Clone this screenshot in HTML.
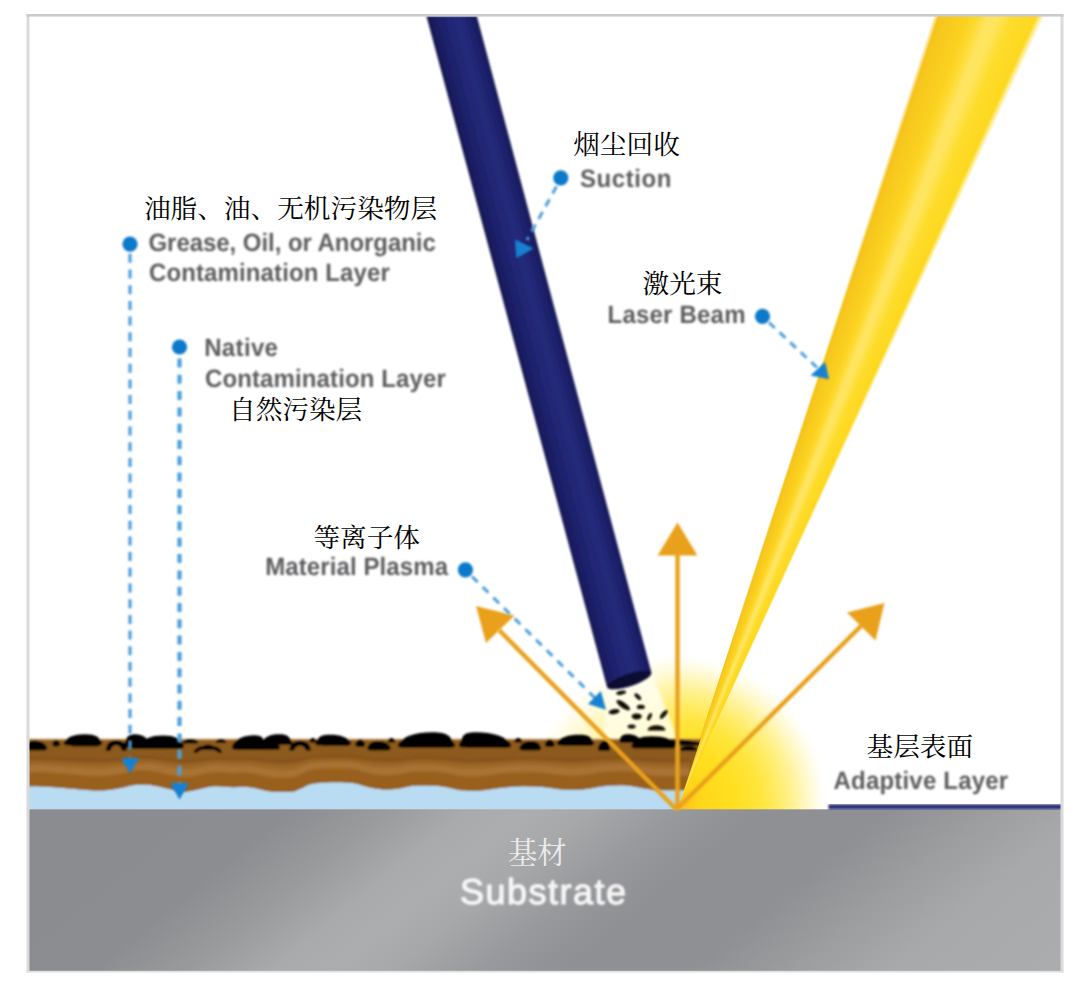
<!DOCTYPE html>
<html lang="zh"><head><meta charset="utf-8"><title>Laser cleaning diagram</title>
<style>
html,body{margin:0;padding:0;background:#fff;}
body{width:1078px;height:1000px;position:relative;overflow:hidden;font-family:"Liberation Sans",sans-serif;}
#stage{position:absolute;left:0;top:0;width:1078px;height:1000px;overflow:hidden;}
#stage svg{position:absolute;left:0;top:0;}
#beam{position:absolute;left:28px;top:16px;width:1033px;height:794px;
 background:conic-gradient(from 0deg at 648.5px 793.5px,
  rgba(247,200,30,0) 17.95deg,#f5c41c 18.3deg,#f8cb1e 19.2deg,#fbd220 20.2deg,#fdda30 20.8deg,#ffe462 21.5deg,#ffe45c 22.1deg,#fedc2c 23.0deg,#fdd81f 24.4deg,rgba(253,216,31,0) 24.9deg);}
.en{position:absolute;white-space:nowrap;text-rendering:geometricPrecision;font-kerning:normal;font-weight:bold;color:#5d5d60;font-size:24px;line-height:30px;filter:blur(1.05px);transform-origin:0 23.3px;transform:scaleY(1.045);}
.zhs{font-family:"Liberation Serif","Noto Serif CJK SC",serif;}
</style></head><body><div id="stage">
<svg width="1078" height="1000" viewBox="0 0 1078 1000">
<defs>
<radialGradient id="glow" gradientUnits="userSpaceOnUse" cx="676.5" cy="805.5" r="150">
<stop offset="0" stop-color="#fcb811"/>
<stop offset="0.05" stop-color="#fec414"/>
<stop offset="0.14" stop-color="#ffd419"/>
<stop offset="0.38" stop-color="#ffdf20"/>
<stop offset="0.56" stop-color="#ffe53c"/>
<stop offset="0.68" stop-color="#ffec68"/>
<stop offset="0.78" stop-color="#fff296"/>
<stop offset="0.87" stop-color="#fff8c8"/>
<stop offset="0.95" stop-color="#fffdee"/>
<stop offset="1" stop-color="#ffffff"/>
</radialGradient>
<linearGradient id="cone" gradientUnits="userSpaceOnUse" x1="630" y1="672" x2="640" y2="742"><stop offset="0" stop-color="#fffef2" stop-opacity="0.9"/><stop offset="1" stop-color="#fffde2" stop-opacity="0.86"/></linearGradient>
<linearGradient id="lfade" gradientUnits="userSpaceOnUse" x1="500" y1="0" x2="700" y2="0"><stop offset="0" stop-color="#fff" stop-opacity="0.5"/><stop offset="0.66" stop-color="#fff" stop-opacity="0.45"/><stop offset="0.93" stop-color="#fff" stop-opacity="0"/></linearGradient>
<clipPath id="box"><rect x="28" y="16" width="1033" height="955"/></clipPath>
<filter id="b1" x="-5%" y="-5%" width="110%" height="110%"><feGaussianBlur stdDeviation="0.7"/></filter>
<filter id="b2" x="-5%" y="-5%" width="110%" height="110%"><feGaussianBlur stdDeviation="1.6"/></filter>
</defs>
<rect width="1078" height="1000" fill="#fff"/>
<g clip-path="url(#box)">
<circle cx="676.5" cy="805.5" r="150" fill="url(#glow)"/>
<rect x="500" y="630" width="200" height="185" fill="url(#lfade)"/>
<path d="M607 686L651.5 672L679 742L603.5 742Z" fill="url(#cone)" filter="url(#b2)"/>
</g></svg>
<div id="beam"></div>
<svg width="1078" height="1000" viewBox="0 0 1078 1000">
<defs>
<linearGradient id="sub" gradientUnits="userSpaceOnUse" x1="28" y1="809" x2="518.3" y2="1412.1">
<stop offset="0.0000" stop-color="#8b8c8f"/>
<stop offset="0.2127" stop-color="#8c8d90"/>
<stop offset="0.2938" stop-color="#9a9b9d"/>
<stop offset="0.3588" stop-color="#a9aaac"/>
<stop offset="0.4075" stop-color="#acadaf"/>
<stop offset="0.4562" stop-color="#a7a8aa"/>
<stop offset="0.5292" stop-color="#98999c"/>
<stop offset="0.5942" stop-color="#8f9093"/>
<stop offset="0.6997" stop-color="#8f9093"/>
<stop offset="0.7808" stop-color="#9c9d9f"/>
<stop offset="0.8620" stop-color="#a8a9ab"/>
<stop offset="1.0000" stop-color="#abacae"/>
</linearGradient>
<linearGradient id="tube" gradientUnits="userSpaceOnUse" x1="426.4" y1="16" x2="475.1" y2="3"><stop offset="0" stop-color="#14164a"/><stop offset="0.12" stop-color="#1a1d63"/><stop offset="0.45" stop-color="#222877"/><stop offset="0.62" stop-color="#242a7a"/><stop offset="0.88" stop-color="#1b1e66"/><stop offset="1" stop-color="#14164c"/></linearGradient>
<clipPath id="box2"><rect x="28" y="16" width="1033" height="955"/></clipPath>
<clipPath id="cut"><path d="M0 700L713.3 700L676.9 812L0 812Z"/></clipPath>
<clipPath id="brownclip"><path d="M28 739.5 L710 739.5 L690 790.2C685 790.2 667.7 790.5 660 790.2C652.3 789.9 650 789.2 644 788.4C638 787.6 630.5 785.6 623.7 785.3C616.9 784.9 610.1 785.6 603.3 786.3C596.5 787 589.7 788.9 582.9 789.4C576.1 789.9 569.2 789.8 562.4 789.4C555.6 789 548.8 787.5 542 787C535.2 786.5 528.4 786.2 521.6 786.3C514.8 786.4 508 787.1 501.2 787.8C494.4 788.5 487.6 790 480.8 790.4C474 790.8 466 790.7 460.4 790.2C454.8 789.7 451.4 788 447 787.3C442.6 786.5 439.6 786 434 785.7C428.4 785.4 419.5 785.2 413.7 785.7C407.9 786.2 404.5 787.8 399.4 788.4C394.3 789 388.1 789.6 383 789.4C377.9 789.2 373.9 788.4 368.8 787.3C363.7 786.2 358.5 783.8 352.4 783C346.3 782.2 338.8 782.1 332 782.3C325.2 782.4 316.8 782.9 311.6 783.9C306.4 784.9 304.4 787.1 301 788.4C297.6 789.7 296 791.3 291 791.8C286 792.3 277.8 792.1 271 791.4C264.2 790.6 256.5 788 250 787.3C243.5 786.6 238 787.4 232 787.2C226 787 220.4 785.8 214 786.3C207.6 786.8 198.6 789.5 193.5 790.4C188.4 791.2 187.7 791.7 183.3 791.4C178.9 791.1 172.4 789.5 167 788.4C161.6 787.3 156 785.5 150.6 784.9C145.2 784.3 139.7 784.3 134.3 784.9C128.9 785.5 123.5 787.5 118 788.4C112.5 789.3 107.8 790.2 101.6 790.4C95.4 790.6 89.5 790 81 789.4C72.5 788.8 59.4 787.5 50.6 787C41.8 786.5 31.8 786.4 28 786.3Z"/></clipPath>
<filter id="s1" x="-5%" y="-5%" width="110%" height="110%"><feGaussianBlur stdDeviation="0.8"/></filter>
<filter id="s2" x="-5%" y="-5%" width="110%" height="110%"><feGaussianBlur stdDeviation="0.9"/></filter>
<filter id="s3" x="-2%" y="-20%" width="104%" height="140%"><feGaussianBlur stdDeviation="1.3"/></filter>
</defs>
<g clip-path="url(#box2)">
<g clip-path="url(#cut)" filter="url(#s1)">
<rect x="20" y="780" width="700" height="32" fill="#b9dcf2"/>
<path d="M28 739.5 L710 739.5 L690 790.2C685 790.2 667.7 790.5 660 790.2C652.3 789.9 650 789.2 644 788.4C638 787.6 630.5 785.6 623.7 785.3C616.9 784.9 610.1 785.6 603.3 786.3C596.5 787 589.7 788.9 582.9 789.4C576.1 789.9 569.2 789.8 562.4 789.4C555.6 789 548.8 787.5 542 787C535.2 786.5 528.4 786.2 521.6 786.3C514.8 786.4 508 787.1 501.2 787.8C494.4 788.5 487.6 790 480.8 790.4C474 790.8 466 790.7 460.4 790.2C454.8 789.7 451.4 788 447 787.3C442.6 786.5 439.6 786 434 785.7C428.4 785.4 419.5 785.2 413.7 785.7C407.9 786.2 404.5 787.8 399.4 788.4C394.3 789 388.1 789.6 383 789.4C377.9 789.2 373.9 788.4 368.8 787.3C363.7 786.2 358.5 783.8 352.4 783C346.3 782.2 338.8 782.1 332 782.3C325.2 782.4 316.8 782.9 311.6 783.9C306.4 784.9 304.4 787.1 301 788.4C297.6 789.7 296 791.3 291 791.8C286 792.3 277.8 792.1 271 791.4C264.2 790.6 256.5 788 250 787.3C243.5 786.6 238 787.4 232 787.2C226 787 220.4 785.8 214 786.3C207.6 786.8 198.6 789.5 193.5 790.4C188.4 791.2 187.7 791.7 183.3 791.4C178.9 791.1 172.4 789.5 167 788.4C161.6 787.3 156 785.5 150.6 784.9C145.2 784.3 139.7 784.3 134.3 784.9C128.9 785.5 123.5 787.5 118 788.4C112.5 789.3 107.8 790.2 101.6 790.4C95.4 790.6 89.5 790 81 789.4C72.5 788.8 59.4 787.5 50.6 787C41.8 786.5 31.8 786.4 28 786.3Z" fill="#8c5a1e"/>
<g clip-path="url(#brownclip)"><g filter="url(#s3)">
<path d="M28 757.2C31.8 757.3 41.8 757.3 50.6 757.5C59.4 757.8 72.5 758.4 81 758.6C89.5 758.9 95.4 759.2 101.6 759.1C107.8 759 112.5 758.6 118 758.2C123.5 757.8 128.9 756.9 134.3 756.6C139.7 756.3 145.2 756.3 150.6 756.6C156 756.9 161.6 757.7 167 758.2C172.4 758.7 178.9 759.4 183.3 759.5C187.7 759.7 188.4 759.5 193.5 759.1C198.6 758.7 207.6 757.5 214 757.2C220.4 757 226 757.6 232 757.6C238 757.7 243.5 757.4 250 757.7C256.5 758 264.2 759.2 271 759.5C277.8 759.9 286 759.9 291 759.7C296 759.5 297.6 758.8 301 758.2C304.4 757.6 306.4 756.6 311.6 756.2C316.8 755.7 325.2 755.5 332 755.4C338.8 755.4 346.3 755.4 352.4 755.8C358.5 756.1 363.7 757.2 368.8 757.7C373.9 758.2 377.9 758.5 383 758.6C388.1 758.7 394.3 758.5 399.4 758.2C404.5 757.9 407.9 757.2 413.7 757C419.5 756.8 428.4 756.8 434 757C439.6 757.1 442.6 757.3 447 757.7C451.4 758 454.8 758.8 460.4 759C466 759.2 474 759.3 480.8 759.1C487.6 758.9 494.4 758.2 501.2 757.9C508 757.6 514.8 757.3 521.6 757.2C528.4 757.2 535.2 757.3 542 757.5C548.8 757.8 555.6 758.5 562.4 758.6C569.2 758.8 576.1 758.9 582.9 758.6C589.7 758.4 596.5 757.5 603.3 757.2C610.1 756.9 616.9 756.6 623.7 756.8C630.5 756.9 638 757.8 644 758.2C650 758.5 652.3 758.9 660 759C667.7 759.1 685 759 690 759L690 764.2C685 764.2 667.7 764.4 660 764.2C652.3 764 650 763.7 644 763.2C638 762.8 630.5 761.7 623.7 761.5C616.9 761.3 610.1 761.7 603.3 762.1C596.5 762.4 589.7 763.5 582.9 763.8C576.1 764.1 569.2 764 562.4 763.8C555.6 763.5 548.8 762.7 542 762.5C535.2 762.2 528.4 762 521.6 762.1C514.8 762.1 508 762.5 501.2 762.9C494.4 763.3 487.6 764.1 480.8 764.3C474 764.5 466 764.5 460.4 764.2C454.8 763.9 451.4 763 447 762.6C442.6 762.2 439.6 761.9 434 761.7C428.4 761.6 419.5 761.5 413.7 761.7C407.9 762 404.5 762.9 399.4 763.2C394.3 763.6 388.1 763.9 383 763.8C377.9 763.7 373.9 763.2 368.8 762.6C363.7 762 358.5 760.7 352.4 760.2C346.3 759.8 338.8 759.8 332 759.9C325.2 759.9 316.8 760.2 311.6 760.7C306.4 761.3 304.4 762.5 301 763.2C297.6 763.9 296 764.8 291 765.1C286 765.4 277.8 765.3 271 764.9C264.2 764.5 256.5 763 250 762.6C243.5 762.2 238 762.7 232 762.6C226 762.5 220.4 761.8 214 762.1C207.6 762.4 198.6 763.9 193.5 764.3C188.4 764.8 187.7 765.1 183.3 764.9C178.9 764.7 172.4 763.8 167 763.2C161.6 762.6 156 761.6 150.6 761.3C145.2 761 139.7 761 134.3 761.3C128.9 761.6 123.5 762.7 118 763.2C112.5 763.7 107.8 764.2 101.6 764.3C95.4 764.4 89.5 764.1 81 763.8C72.5 763.5 59.4 762.7 50.6 762.5C41.8 762.2 31.8 762.1 28 762.1Z" fill="#7e4f18" opacity="0.55"/>
<path d="M28 760.6C31.8 760.6 41.8 760.7 50.6 761C59.4 761.2 72.5 762 81 762.3C89.5 762.6 95.4 762.9 101.6 762.8C107.8 762.7 112.5 762.2 118 761.7C123.5 761.2 128.9 760.1 134.3 759.8C139.7 759.5 145.2 759.5 150.6 759.8C156 760.1 161.6 761.1 167 761.7C172.4 762.3 178.9 763.2 183.3 763.4C187.7 763.6 188.4 763.3 193.5 762.8C198.6 762.4 207.6 760.9 214 760.6C220.4 760.3 226 761 232 761.1C238 761.2 243.5 760.7 250 761.1C256.5 761.5 264.2 763 271 763.4C277.8 763.8 286 763.9 291 763.6C296 763.3 297.6 762.4 301 761.7C304.4 761 306.4 759.8 311.6 759.2C316.8 758.7 325.2 758.4 332 758.4C338.8 758.3 346.3 758.3 352.4 758.8C358.5 759.2 363.7 760.5 368.8 761.1C373.9 761.7 377.9 762.2 383 762.3C388.1 762.4 394.3 762.1 399.4 761.7C404.5 761.4 407.9 760.5 413.7 760.2C419.5 760 428.4 760.1 434 760.2C439.6 760.4 442.6 760.7 447 761.1C451.4 761.5 454.8 762.4 460.4 762.7C466 763 474 763 480.8 762.8C487.6 762.6 494.4 761.8 501.2 761.4C508 761 514.8 760.6 521.6 760.6C528.4 760.5 535.2 760.7 542 761C548.8 761.2 555.6 762 562.4 762.3C569.2 762.5 576.1 762.6 582.9 762.3C589.7 762 596.5 760.9 603.3 760.6C610.1 760.2 616.9 759.8 623.7 760C630.5 760.2 638 761.3 644 761.7C650 762.2 652.3 762.5 660 762.7C667.7 762.9 685 762.7 690 762.7L690 776.5C685 776.5 667.7 776.8 660 776.5C652.3 776.2 650 775.6 644 774.9C638 774.1 630.5 772.4 623.7 772.1C616.9 771.8 610.1 772.4 603.3 773C596.5 773.6 589.7 775.3 582.9 775.8C576.1 776.2 569.2 776.1 562.4 775.8C555.6 775.4 548.8 774.1 542 773.6C535.2 773.1 528.4 772.8 521.6 773C514.8 773.1 508 773.7 501.2 774.3C494.4 774.9 487.6 776.3 480.8 776.7C474 777 466 776.9 460.4 776.5C454.8 776 451.4 774.5 447 773.9C442.6 773.2 439.6 772.7 434 772.4C428.4 772.2 419.5 772 413.7 772.4C407.9 772.8 404.5 774.3 399.4 774.9C394.3 775.4 388.1 775.9 383 775.8C377.9 775.6 373.9 774.8 368.8 773.9C363.7 772.9 358.5 770.8 352.4 770C346.3 769.2 338.8 769.2 332 769.4C325.2 769.5 316.8 769.9 311.6 770.8C306.4 771.7 304.4 773.7 301 774.9C297.6 776 296 777.5 291 777.9C286 778.4 277.8 778.2 271 777.6C264.2 776.9 256.5 774.5 250 773.9C243.5 773.2 238 773.9 232 773.8C226 773.6 220.4 772.5 214 773C207.6 773.4 198.6 775.9 193.5 776.7C188.4 777.4 187.7 777.9 183.3 777.6C178.9 777.3 172.4 775.8 167 774.9C161.6 773.9 156 772.2 150.6 771.7C145.2 771.2 139.7 771.2 134.3 771.7C128.9 772.2 123.5 774 118 774.9C112.5 775.7 107.8 776.5 101.6 776.7C95.4 776.8 89.5 776.3 81 775.8C72.5 775.2 59.4 774.1 50.6 773.6C41.8 773.1 31.8 773.1 28 773Z" fill="#9c6626"/>
<path d="M28 765.1C31.8 765.2 41.8 765.3 50.6 765.7C59.4 766.1 72.5 767.2 81 767.6C89.5 768.1 95.4 768.6 101.6 768.4C107.8 768.3 112.5 767.6 118 766.8C123.5 766.1 128.9 764.5 134.3 764C139.7 763.6 145.2 763.6 150.6 764C156 764.5 161.6 766 167 766.8C172.4 767.7 178.9 769 183.3 769.2C187.7 769.5 188.4 769.1 193.5 768.4C198.6 767.7 207.6 765.6 214 765.1C220.4 764.7 226 765.7 232 765.9C238 766 243.5 765.4 250 765.9C256.5 766.5 264.2 768.6 271 769.2C277.8 769.8 286 769.9 291 769.5C296 769.1 297.6 767.9 301 766.8C304.4 765.8 306.4 764 311.6 763.2C316.8 762.4 325.2 762.1 332 761.9C338.8 761.8 346.3 761.8 352.4 762.5C358.5 763.2 363.7 765.1 368.8 765.9C373.9 766.8 377.9 767.5 383 767.6C388.1 767.8 394.3 767.3 399.4 766.8C404.5 766.3 407.9 765 413.7 764.7C419.5 764.3 428.4 764.4 434 764.7C439.6 764.9 442.6 765.3 447 765.9C451.4 766.5 454.8 767.8 460.4 768.3C466 768.7 474 768.7 480.8 768.4C487.6 768.1 494.4 766.9 501.2 766.3C508 765.8 514.8 765.2 521.6 765.1C528.4 765 535.2 765.3 542 765.7C548.8 766.1 555.6 767.3 562.4 767.6C569.2 767.9 576.1 768 582.9 767.6C589.7 767.2 596.5 765.7 603.3 765.1C610.1 764.6 616.9 764.1 623.7 764.3C630.5 764.6 638 766.2 644 766.8C650 767.5 652.3 768 660 768.3C667.7 768.5 685 768.3 690 768.3L690 775.7C685 775.7 667.7 776 660 775.7C652.3 775.4 650 774.7 644 773.9C638 773.1 630.5 771.1 623.7 770.8C616.9 770.4 610.1 771.1 603.3 771.8C596.5 772.5 589.7 774.4 582.9 774.9C576.1 775.4 569.2 775.3 562.4 774.9C555.6 774.5 548.8 773 542 772.5C535.2 772 528.4 771.7 521.6 771.8C514.8 771.9 508 772.6 501.2 773.3C494.4 774 487.6 775.5 480.8 775.9C474 776.3 466 776.2 460.4 775.7C454.8 775.2 451.4 773.5 447 772.8C442.6 772 439.6 771.5 434 771.2C428.4 770.9 419.5 770.8 413.7 771.2C407.9 771.7 404.5 773.3 399.4 773.9C394.3 774.5 388.1 775.1 383 774.9C377.9 774.7 373.9 773.9 368.8 772.8C363.7 771.7 358.5 769.3 352.4 768.5C346.3 767.7 338.8 767.6 332 767.8C325.2 767.9 316.8 768.4 311.6 769.4C306.4 770.4 304.4 772.6 301 773.9C297.6 775.2 296 776.8 291 777.3C286 777.8 277.8 777.6 271 776.9C264.2 776.1 256.5 773.5 250 772.8C243.5 772.1 238 772.9 232 772.7C226 772.5 220.4 771.3 214 771.8C207.6 772.3 198.6 775 193.5 775.9C188.4 776.8 187.7 777.2 183.3 776.9C178.9 776.6 172.4 775 167 773.9C161.6 772.8 156 771 150.6 770.4C145.2 769.8 139.7 769.8 134.3 770.4C128.9 771 123.5 773 118 773.9C112.5 774.8 107.8 775.7 101.6 775.9C95.4 776.1 89.5 775.5 81 774.9C72.5 774.3 59.4 773 50.6 772.5C41.8 772 31.8 771.9 28 771.8Z" fill="#ad783a" opacity="0.75"/>
<path d="M28 773C31.8 773.1 41.8 773.1 50.6 773.6C59.4 774.1 72.5 775.2 81 775.8C89.5 776.3 95.4 776.8 101.6 776.7C107.8 776.5 112.5 775.7 118 774.9C123.5 774 128.9 772.2 134.3 771.7C139.7 771.2 145.2 771.2 150.6 771.7C156 772.2 161.6 773.9 167 774.9C172.4 775.8 178.9 777.3 183.3 777.6C187.7 777.9 188.4 777.4 193.5 776.7C198.6 775.9 207.6 773.4 214 773C220.4 772.5 226 773.6 232 773.8C238 773.9 243.5 773.2 250 773.9C256.5 774.5 264.2 776.9 271 777.6C277.8 778.2 286 778.4 291 777.9C296 777.5 297.6 776 301 774.9C304.4 773.7 306.4 771.7 311.6 770.8C316.8 769.9 325.2 769.5 332 769.4C338.8 769.2 346.3 769.2 352.4 770C358.5 770.8 363.7 772.9 368.8 773.9C373.9 774.8 377.9 775.6 383 775.8C388.1 775.9 394.3 775.4 399.4 774.9C404.5 774.3 407.9 772.8 413.7 772.4C419.5 772 428.4 772.2 434 772.4C439.6 772.7 442.6 773.2 447 773.9C451.4 774.5 454.8 776 460.4 776.5C466 776.9 474 777 480.8 776.7C487.6 776.3 494.4 774.9 501.2 774.3C508 773.7 514.8 773.1 521.6 773C528.4 772.8 535.2 773.1 542 773.6C548.8 774.1 555.6 775.4 562.4 775.8C569.2 776.1 576.1 776.2 582.9 775.8C589.7 775.3 596.5 773.6 603.3 773C610.1 772.4 616.9 771.8 623.7 772.1C630.5 772.4 638 774.1 644 774.9C650 775.6 652.3 776.2 660 776.5C667.7 776.8 685 776.5 690 776.5L690 796.2C685 796.2 667.7 796.5 660 796.2C652.3 795.9 650 795.2 644 794.4C638 793.6 630.5 791.6 623.7 791.3C616.9 790.9 610.1 791.6 603.3 792.3C596.5 793 589.7 794.9 582.9 795.4C576.1 795.9 569.2 795.8 562.4 795.4C555.6 795 548.8 793.5 542 793C535.2 792.5 528.4 792.2 521.6 792.3C514.8 792.4 508 793.1 501.2 793.8C494.4 794.5 487.6 796 480.8 796.4C474 796.8 466 796.7 460.4 796.2C454.8 795.7 451.4 794 447 793.3C442.6 792.5 439.6 792 434 791.7C428.4 791.4 419.5 791.2 413.7 791.7C407.9 792.2 404.5 793.8 399.4 794.4C394.3 795 388.1 795.6 383 795.4C377.9 795.2 373.9 794.4 368.8 793.3C363.7 792.2 358.5 789.8 352.4 789C346.3 788.2 338.8 788.1 332 788.3C325.2 788.4 316.8 788.9 311.6 789.9C306.4 790.9 304.4 793.1 301 794.4C297.6 795.7 296 797.3 291 797.8C286 798.3 277.8 798.1 271 797.4C264.2 796.6 256.5 794 250 793.3C243.5 792.6 238 793.4 232 793.2C226 793 220.4 791.8 214 792.3C207.6 792.8 198.6 795.5 193.5 796.4C188.4 797.2 187.7 797.7 183.3 797.4C178.9 797.1 172.4 795.5 167 794.4C161.6 793.3 156 791.5 150.6 790.9C145.2 790.3 139.7 790.3 134.3 790.9C128.9 791.5 123.5 793.5 118 794.4C112.5 795.3 107.8 796.2 101.6 796.4C95.4 796.6 89.5 796 81 795.4C72.5 794.8 59.4 793.5 50.6 793C41.8 792.5 31.8 792.4 28 792.3Z" fill="#98601f"/>
</g></g>
<rect x="20" y="738.8" width="700" height="1.6" fill="#b98748" opacity="0.85"/>
<g fill="#050403"><path d="M29.5 750.5Q25 750.5 26 747C28.1 743 27.7 740.5 34 740.5C40.3 740.5 44.9 743 47 747Q48 750.5 43.5 750.5Z"/><path d="M55.8 746.5Q51.5 746.5 52.5 743.2C53.2 741.6 54 740 56.2 740C58.5 740 59.2 741.6 60 743.2Q61 746.5 56.8 746.5Z"/><path d="M67.5 745.5Q63 745.5 64 742C67.8 737.1 73.6 734.3 85 734.3C96.4 734.3 98.2 737.1 102 742Q103 745.5 98.5 745.5Z"/><path d="M73.5 746.5Q69 746.5 70 743C73 740.1 76 738 85 738C94 738 97 740.1 100 743Q101 746.5 96.5 746.5Z"/><path d="M105.5 751Q106.5 740 116.2 740Q126 740 127 751L122 751Q121 746 116.2 745Q111.5 746 110.5 751Z"/><path d="M127.5 748Q123 748 124 744.5C126.6 737.7 127.2 734.3 135 734.3C142.8 734.3 147.4 737.7 150 744.5Q151 748 146.5 748Z"/><path d="M143.5 748.6Q139 748.6 140 745.1C144.4 738.8 149.8 735.5 163 735.5C176.2 735.5 179.6 738.8 184 745.1Q185 748.6 180.5 748.6Z"/><path d="M131.5 749Q127 749 128 745.5C133.4 743 138.8 741 155 741C171.2 741 176.6 743 182 745.5Q183 749 178.5 749Z"/><path d="M185.2 743.5Q182 743.5 183 741.2C184.5 740.1 186 739 190.5 739C195 739 196.5 740.1 198 741.2Q199 743.5 195.8 743.5Z"/><path d="M193.5 753Q194.5 745.5 207.8 745.5Q221 745.5 222 753L218.5 753Q217.5 750 207.8 749Q198 750 197 753Z"/><path d="M204.8 750Q201 750 202 747.2C203.2 745.9 204.4 744.5 208 744.5C211.6 744.5 212.8 745.9 214 747.2Q215 750 211.2 750Z"/><path d="M218 743Q215 743 216 741C217 740 218 739 221 739C224 739 225 740 226 741Q227 743 224 743Z"/><path d="M235.5 749.6Q231 749.6 232 746.1C235.4 738.9 243.8 735.3 254 735.3C264.2 735.3 262.6 738.9 266 746.1Q267 749.6 262.5 749.6Z"/><path d="M265.5 745Q261 745 262 741.5C265 737 270 734.3 279 734.3C288 734.3 289 737 292 741.5Q293 745 288.5 745Z"/><path d="M237.5 749.8Q233 749.8 234 746.3C238.6 743.2 243.2 741 257 741C270.8 741 275.4 743.2 280 746.3Q281 749.8 276.5 749.8Z"/><path d="M289 750.6Q290 740.4 300 740.4Q310 740.4 311 750.6L306 750.6Q305 746.4 300 745.4Q295 746.4 294 750.6Z"/><path d="M311.8 742.5Q308.5 742.5 309.5 740.2C310.1 739.1 310.8 738 312.8 738C314.7 738 315.4 739.1 316 740.2Q317 742.5 313.8 742.5Z"/><path d="M319 745.5Q314.5 745.5 315.5 742C319.1 737.4 319.4 734.7 330 734.7C340.6 734.7 347.4 737.4 351 742Q352 745.5 347.5 745.5Z"/><path d="M325 746Q321 746 322 743C324.7 741.5 327.4 740 335.5 740C343.6 740 346.3 741.5 349 743Q350 746 346 746Z"/><path d="M359 747Q354.5 747 355.5 743.5C356.4 741.4 357.4 739.5 360.2 739.5C363.1 739.5 364.1 741.4 365 743.5Q366 747 361.5 747Z"/><path d="M371 750.6Q366.5 750.6 367.5 747.1C369.8 743.4 371.1 741 378 741C384.9 741 388.2 743.4 390.5 747.1Q391.5 750.6 387 750.6Z"/><path d="M390.2 742.5Q387 742.5 388 740.2C388.7 739.1 389.4 738 391.5 738C393.6 738 394.3 739.1 395 740.2Q396 742.5 392.8 742.5Z"/><path d="M401.5 747.6Q397 747.6 398 744.1C403.7 736.1 414.9 732.2 432 732.2C449.1 732.2 449.3 736.1 455 744.1Q456 747.6 451.5 747.6Z"/><path d="M403.4 747.8Q399 747.8 400 744.4C405.2 742.7 410.4 741 426 741C441.6 741 446.8 742.7 452 744.4Q453 747.8 448.6 747.8Z"/><path d="M462.5 747.6Q458 747.6 459 744.1C464.2 736.1 460.9 732.2 476.5 732.2C492.1 732.2 505.8 736.1 511 744.1Q512 747.6 507.5 747.6Z"/><path d="M469.4 747.8Q465 747.8 466 744.4C470.3 742.7 474.6 741 487.5 741C500.4 741 504.7 742.7 509 744.4Q510 747.8 505.6 747.8Z"/><path d="M516.8 742.5Q513.5 742.5 514.5 740.2C515.2 739.1 516 738 518.2 738C520.5 738 521.2 739.1 522 740.2Q523 742.5 519.8 742.5Z"/><path d="M523 750.6Q518.5 750.6 519.5 747.1C521.6 743.4 524.5 741 531 741C537.5 741 538.9 743.4 541 747.1Q542 750.6 537.5 750.6Z"/><path d="M548.5 747Q544 747 545 743.5C546 741.4 546.9 739.5 549.8 739.5C552.6 739.5 553.5 741.4 554.5 743.5Q555.5 747 551 747Z"/><path d="M560.5 745.5Q556 745.5 557 742C560.7 737.4 567.9 734.7 579 734.7C590.1 734.7 590.3 737.4 594 742Q595 745.5 590.5 745.5Z"/><path d="M565 746Q561 746 562 743C565 741.5 568 740 577 740C586 740 589 741.5 592 743Q593 746 589 746Z"/><path d="M601.5 751Q597 751 598 747.5C599.2 743.1 602.4 740.5 606 740.5C609.6 740.5 608.8 743.1 610 747.5Q611 751 606.5 751Z"/><path d="M623 743Q618.5 743 619.5 739.5C621.5 736.5 621.9 734.3 628 734.3C634.1 734.3 638 736.5 640 739.5Q641 743 636.5 743Z"/><path d="M635 748.6Q630.5 748.6 631.5 745.1C636 739.4 638.6 736.3 652 736.3C665.4 736.3 671.5 739.4 676 745.1Q677 748.6 672.5 748.6Z"/><path d="M643 745.5Q639 745.5 640 742.5C646 741 652 739.5 670 739.5C688 739.5 694 741 700 742.5Q701 745.5 697 745.5Z"/><path d="M682.5 751Q679 751 680 748.5C681.7 747.2 683.4 746 688.5 746C693.6 746 695.3 747.2 697 748.5Q698 751 694.5 751Z"/></g>
</g>
<rect x="20" y="809.3" width="1050" height="170" fill="url(#sub)"/>
<rect x="828.5" y="804.3" width="240" height="5.2" fill="#2b2e78" filter="url(#s1)"/>
<g stroke="#e9a11f" stroke-width="4.4" fill="none" filter="url(#s1)">
<path d="M677.5 809.5L677.5 552"/>
<path d="M676.5 809.5L499 630"/>
<path d="M676.5 809.5L863 624"/>
</g>
<g fill="#e9a11f" filter="url(#s1)">
<path d="M677.5 522.5L697.5 555.5L657.5 555.5Z"/>
<path d="M476 606L514.5 615.5L486 643Z"/>
<path d="M884.5 603L847 612.5L875.5 640.5Z"/>
</g>
<g filter="url(#s2)">
<path d="M426.4 16L476.8 16L651.4 672.6L607.2 687.4Z" fill="url(#tube)"/>
<ellipse cx="629.3" cy="680" rx="23.2" ry="6.2" transform="rotate(-18.3 629.3 680)" fill="#0d0f33"/>
</g>
<g fill="#0a0805" filter="url(#s2)"><ellipse cx="621.1" cy="692.7" rx="5" ry="2" transform="rotate(-10 621.1 692.7)"/><ellipse cx="637.8" cy="696.7" rx="4.2" ry="2" transform="rotate(45 637.8 696.7)"/><ellipse cx="623.2" cy="705.2" rx="8" ry="2.8" transform="rotate(35 623.2 705.2)"/><ellipse cx="640.8" cy="706.9" rx="4" ry="2.2" transform="rotate(0 640.8 706.9)"/><ellipse cx="614.2" cy="711.6" rx="5.5" ry="2.5" transform="rotate(-10 614.2 711.6)"/><ellipse cx="636.7" cy="716.4" rx="5" ry="3" transform="rotate(0 636.7 716.4)"/><ellipse cx="649.5" cy="716.7" rx="4" ry="1.8" transform="rotate(-65 649.5 716.7)"/><ellipse cx="663.7" cy="714.4" rx="5.5" ry="2.2" transform="rotate(-50 663.7 714.4)"/><ellipse cx="631.6" cy="726.6" rx="4" ry="2" transform="rotate(0 631.6 726.6)"/><path d="M647.5 730.5Q648 725.5 656.5 725.3Q665 725.5 665.5 730.5Z"/></g>
</g>
<g filter="url(#s2)">
<g stroke="#4d9edb" fill="none">
<path d="M130 253.8L130 757" stroke-width="3.2" stroke-dasharray="9 6.7"/>
<path d="M179.5 358.5L179.5 783" stroke-width="4.2" stroke-dasharray="9 7.3"/>
<path d="M556.5 186.5L527 240" stroke-width="3" stroke-dasharray="8 6.5"/>
<path d="M769 322.5L817 367.5" stroke-width="3" stroke-dasharray="8 6.5"/>
<path d="M472 576.5L596 699" stroke-width="3" stroke-dasharray="8 7"/>
</g>
<g fill="#1481d2">
<path d="M121 758L139 758L130 773.5Z"/>
<path d="M170 783L189 783L179.5 799.5Z"/>
<path d="M515 239.6L533.6 248.5L516.3 258.2Z"/>
<path d="M825.2 362L810.5 375.4L829 379.2Z"/>
<path d="M600.8 691L588 704L606 709.8Z"/>
</g>
<g fill="#0e79ca">
<circle cx="130" cy="244.2" r="7.6"/>
<circle cx="179.5" cy="347" r="7.6"/>
<circle cx="560.8" cy="177.9" r="7.6"/>
<circle cx="762.5" cy="316.3" r="7.6"/>
<circle cx="465.4" cy="569.8" r="7.6"/>
</g></g>
<text class="zhs" x="143.9" y="217.6" font-size="26.67" fill="#000">油脂、油、无机污染物层</text>
<text class="zhs" x="229" y="419.2" font-size="26.67" fill="#000">自然污染层</text>
<text class="zhs" x="573.2" y="154.4" font-size="26.67" fill="#000">烟尘回收</text>
<text class="zhs" x="642.5" y="293.3" font-size="26.67" fill="#000">激光束</text>
<text class="zhs" x="313.4" y="547" font-size="26.67" fill="#000">等离子体</text>
<text class="zhs" x="866.5" y="755.9" font-size="26.67" fill="#000">基层表面</text>
<text class="zhs" x="508" y="862.9" font-size="29.33" fill="#ececee">基材</text>
<rect x="26.5" y="14" width="3" height="958.5" fill="#dadadd"/>
<rect x="1060.5" y="14" width="3" height="958.5" fill="#dadadd"/>
<rect x="26.5" y="14" width="1037" height="2.6" fill="#cbcbcd"/>
<rect x="26.5" y="970.8" width="1037" height="1.8" fill="#e2e2e5"/>
</svg>
<div class="en" style="left:148.5px;top:228.6px;font-size:24px;letter-spacing:-0.05px;">Grease, Oil, or Anorganic</div>
<div class="en" style="left:149px;top:258.6px;font-size:24px;letter-spacing:0.12px;">Contamination Layer</div>
<div class="en" style="left:204.2px;top:333.6px;font-size:24px;letter-spacing:0.35px;">Native</div>
<div class="en" style="left:205px;top:364.9px;font-size:24px;letter-spacing:0.12px;">Contamination Layer</div>
<div class="en" style="left:580px;top:164.6px;font-size:24px;letter-spacing:0.55px;">Suction</div>
<div class="en" style="left:607.6px;top:300.6px;font-size:24px;letter-spacing:0.2px;">Laser Beam</div>
<div class="en" style="left:265.2px;top:553.3px;font-size:24px;letter-spacing:0.1px;">Material Plasma</div>
<div class="en" style="left:833.5px;top:767.2px;font-size:24px;letter-spacing:0.2px;">Adaptive Layer</div>
<div class="en" style="left:460px;top:869.5px;font-size:36px;transform:none;font-weight:normal;color:#f6f6f7;-webkit-text-stroke:1.15px #f6f6f7;line-height:44px;letter-spacing:1.5px;filter:blur(1.1px);">Substrate</div>

</div></body></html>
